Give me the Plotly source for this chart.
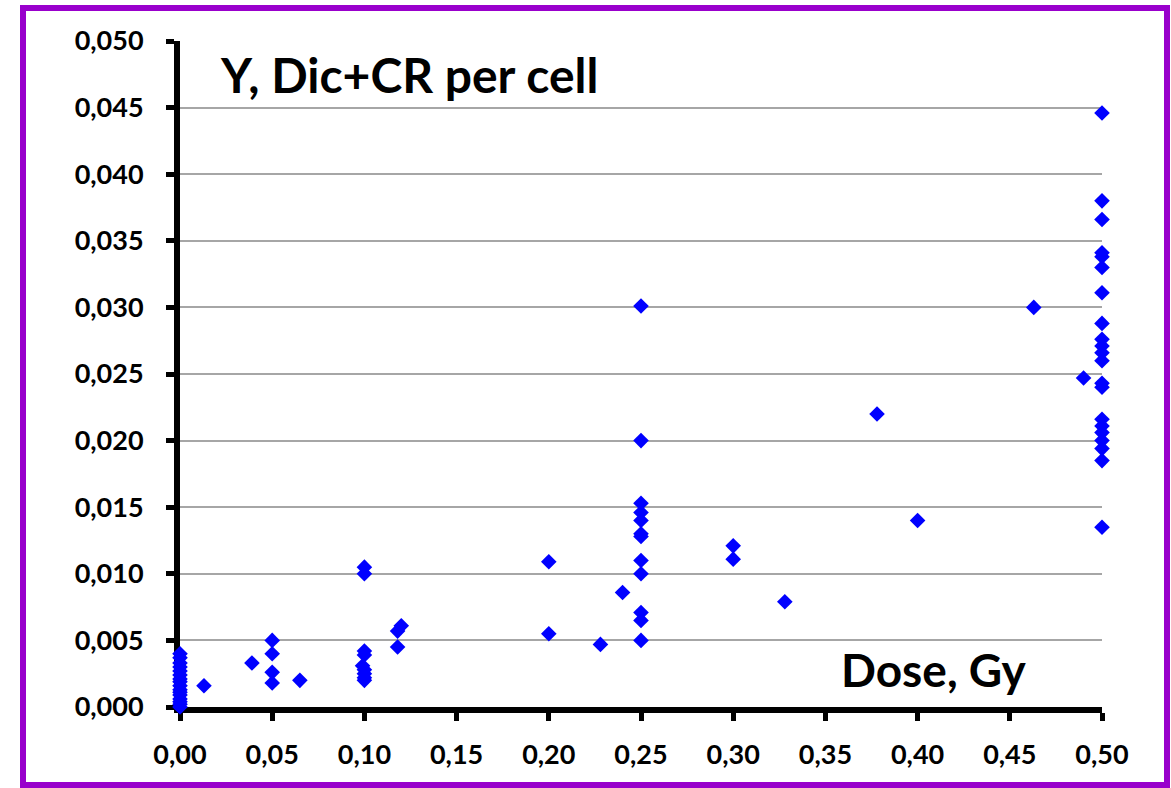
import plotly.graph_objects as go

# Dose (Gy) and yield (Dic+CR per cell)
dose = [
    0.0, 0.0, 0.0, 0.0, 0.0, 0.0, 0.0, 0.0, 0.0, 0.0, 0.0, 0.0, 0.0, 0.0, 0.0, 0.0,
    0.013, 0.039,
    0.05, 0.05, 0.05, 0.05,
    0.065,
    0.1, 0.1, 0.1, 0.1, 0.099, 0.1, 0.1, 0.1, 0.1,
    0.118, 0.118, 0.12,
    0.2, 0.2,
    0.228, 0.24,
    0.25, 0.25, 0.25, 0.25, 0.25, 0.25, 0.25, 0.25, 0.25, 0.25, 0.25, 0.25,
    0.3, 0.3,
    0.328, 0.378, 0.40, 0.463, 0.49,
    0.5, 0.5, 0.5, 0.5, 0.5, 0.5, 0.5, 0.5, 0.5, 0.5, 0.5, 0.5, 0.5, 0.5, 0.5,
    0.5, 0.5, 0.5, 0.5, 0.5, 0.5,
]
yield_ = [
    0.0040, 0.0037, 0.0033, 0.0030, 0.0027, 0.0024, 0.0021, 0.0019, 0.0016, 0.0013,
    0.0011, 0.0009, 0.0006, 0.0004, 0.0002, 0.0000,
    0.0016, 0.0033,
    0.0050, 0.0040, 0.0026, 0.0018,
    0.0020,
    0.0105, 0.0100, 0.0042, 0.0039, 0.0031, 0.0028, 0.0025, 0.0022, 0.0020,
    0.0045, 0.0057, 0.0061,
    0.0109, 0.0055,
    0.0047, 0.0086,
    0.0301, 0.0200, 0.0153, 0.0146, 0.0140, 0.0130, 0.0128, 0.0110, 0.0100, 0.0071,
    0.0065, 0.0050,
    0.0121, 0.0111,
    0.0079, 0.0220, 0.0140, 0.0300, 0.0247,
    0.0446, 0.0380, 0.0366, 0.0341, 0.0338, 0.0330, 0.0311, 0.0288, 0.0276, 0.0271,
    0.0266, 0.0260, 0.0243, 0.0240, 0.0216, 0.0211, 0.0206, 0.0200, 0.0194, 0.0185,
    0.0135,
]

x_ticks = [0.0, 0.05, 0.10, 0.15, 0.20, 0.25, 0.30, 0.35, 0.40, 0.45, 0.50]
y_ticks = [0.000, 0.005, 0.010, 0.015, 0.020, 0.025, 0.030, 0.035, 0.040, 0.045, 0.050]

FONT = "Lato"

fig = go.Figure()
fig.add_trace(go.Scatter(
    x=dose, y=yield_, mode="markers",
    marker=dict(symbol="diamond", size=12, color="#0000FF", line=dict(width=0)),
    cliponaxis=False, showlegend=False,
))

fig.update_layout(
    width=1171, height=788,
    margin=dict(l=180, r=69, t=41, b=81),
    paper_bgcolor="white", plot_bgcolor="white",
    separators=", ",
    font=dict(family=FONT, color="black"),
    xaxis=dict(
        range=[0, 0.5], tickvals=x_ticks, tickformat=".2f",
        showgrid=False, zeroline=False,
        showline=True, linecolor="black", linewidth=6,
        ticks="outside", ticklen=8, tickwidth=5, tickcolor="black",
        tickfont=dict(family=FONT, size=27, color="black", weight="bold"),
        ticklabelstandoff=11,
        layer="below traces",
    ),
    yaxis=dict(
        range=[0, 0.05], tickvals=y_ticks, tickformat=".3f",
        showgrid=True, gridcolor="#a6a6a6", gridwidth=1.5, zeroline=False,
        showline=True, linecolor="black", linewidth=6,
        ticks="outside", ticklen=8, tickwidth=5, tickcolor="black",
        tickfont=dict(family=FONT, size=27, color="black", weight="bold"),
        ticklabelstandoff=17,
        layer="below traces",
    ),
    annotations=[
        dict(text="Y, Dic+CR per cell", xref="paper", yref="paper",
             x=0.041, y=0.949, xanchor="left", yanchor="middle", showarrow=False,
             font=dict(family=FONT, size=48, color="black", weight="bold")),
        dict(text="Dose, Gy", xref="paper", yref="paper",
             x=0.715, y=0.057, xanchor="left", yanchor="middle", showarrow=False,
             font=dict(family=FONT, size=46, color="black", weight="bold")),
    ],
    shapes=[
        dict(type="rect", xref="paper", yref="paper",
             x0=(23 - 180) / 922, x1=(1167 - 180) / 922,
             y0=(707 - 785) / 666, y1=(707 - 8) / 666,
             line=dict(color="#9900CC", width=6), fillcolor="rgba(0,0,0,0)",
             layer="above"),
    ],
)

fig.write_html("out.html")
